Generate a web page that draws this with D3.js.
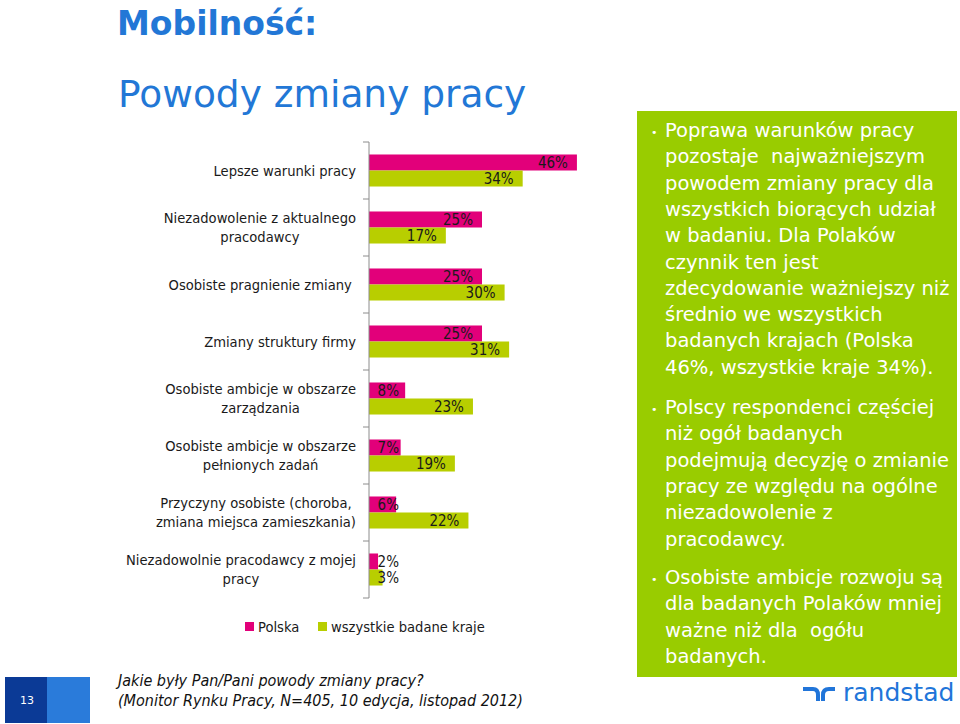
<!DOCTYPE html>
<html><head><meta charset="utf-8">
<script src="https://cdn.jsdelivr.net/npm/d3@7"></script>
<style>
html,body{margin:0;padding:0;background:#fff;}
svg{display:block;font-family:'DejaVu Sans',sans-serif;}
.cond{font-family:'DejaVu Sans Condensed','DejaVu Sans',sans-serif;font-stretch:condensed;}
</style></head>
<body>
<svg id="c" width="960" height="724"></svg>
<script>
const categories = [
  "Lepsze warunki pracy",
  "Niezadowolenie z aktualnego\npracodawcy",
  "Osobiste pragnienie zmiany ",
  "Zmiany struktury firmy",
  "Osobiste ambicje w obszarze\nzarządzania",
  "Osobiste ambicje w obszarze\npełnionych zadań",
  "Przyczyny osobiste (choroba,\nzmiana miejsca zamieszkania)",
  "Niezadowolnie pracodawcy z mojej\npracy"
];
const seriesNames = ["Polska", "wszystkie badane kraje"];
const polska = [46, 25, 25, 25, 8, 7, 6, 2];
const wszystkie = [34, 17, 30, 31, 23, 19, 22, 3];
const bullets = [
  ["Poprawa warunków pracy","pozostaje  najważniejszym","powodem zmiany pracy dla","wszystkich biorących udział","w badaniu. Dla Polaków","czynnik ten jest","zdecydowanie ważniejszy niż","średnio we wszystkich","badanych krajach (Polska","46%, wszystkie kraje 34%)."],
  ["Polscy respondenci częściej","niż ogół badanych","podejmują decyzję o zmianie","pracy ze względu na ogólne","niezadowolenie z","pracodawcy."],
  ["Osobiste ambicje rozwoju są","dla badanych Polaków mniej","ważne niż dla  ogółu","badanych."]
];
const titleBold = "Mobilność:";
const titleMain = "Powody zmiany pracy";
const question = ["Jakie były Pan/Pani powody zmiany pracy?","(Monitor Rynku Pracy, N=405, 10 edycja, listopad 2012)"];

const colors = {Polska:"#E2007A", all:"#B8CE00"};
const svg = d3.select("#c");

// Titles
svg.append("text").attr("x",117).attr("y",35).attr("font-size",33).attr("font-weight","bold")
  .attr("fill","#2277D6").text(titleBold);
svg.append("text").attr("x",118).attr("y",107).attr("font-size",37.5)
  .attr("fill","#2277D6").text(titleMain);

// Chart
const data = categories.map((c,i)=>({cat:c, vals:[polska[i], wszystkie[i]]}));
const y0 = d3.scaleBand().domain(categories).range([142,598]).paddingInner(0).paddingOuter(0);
const y1 = d3.scaleBand().domain(seriesNames).range([0,y0.bandwidth()]).paddingInner(0).paddingOuter(0.78);
const x = d3.scaleLinear().domain([0,50]).range([369,595]);
const fill = d3.scaleOrdinal().domain(seriesNames).range([colors.Polska, colors.all]);

const g = svg.append("g");
const groups = g.selectAll("g.cat").data(data).join("g").attr("class","cat")
  .attr("transform", d=>`translate(0,${y0(d.cat)})`);
groups.selectAll("rect").data(d=>d.vals.map((v,j)=>({s:seriesNames[j], v})))
  .join("rect")
  .attr("x", x(0)).attr("y", d=>y1(d.s))
  .attr("width", d=>x(d.v)-x(0)).attr("height", y1.bandwidth())
  .attr("fill", d=>fill(d.s));
groups.selectAll("text.val").data(d=>d.vals.map((v,j)=>({s:seriesNames[j], v})))
  .join("text").attr("class","val cond")
  .attr("x", d=>Math.max(x(d.v)-9, x(0)+30))
  .attr("y", d=>y1(d.s)+y1.bandwidth()/2)
  .attr("dy","0.36em").attr("text-anchor","end")
  .attr("font-size",15).attr("fill","#1a1a1a")
  .text(d=>d.v+"%");

// axis
const axisG = svg.append("g");
axisG.append("line").attr("x1",x(0)).attr("x2",x(0)).attr("y1",142).attr("y2",598)
  .attr("stroke","#8c8c8c").attr("stroke-width",1);
const tickYs = categories.map(c=>y0(c)).concat([598]);
axisG.selectAll("line.tick").data(tickYs).join("line").attr("class","tick")
  .attr("x1",x(0)-6).attr("x2",x(0)).attr("y1",d=>d).attr("y2",d=>d)
  .attr("stroke","#8c8c8c");

// category labels
const labG = svg.append("g").attr("class","cond").attr("font-size",14.6).attr("fill","#1a1a1a");
data.forEach(d=>{
  const lines = d.cat.split("\n");
  const cy = y0(d.cat)+y0.bandwidth()/2;
  const lh = 19;
  const t = labG.append("text").style("white-space","pre");
  lines.forEach((ln,k)=>{
    t.append("tspan").attr("y", cy + (k-(lines.length-1)/2)*lh).attr("dy","0.36em").text(ln);
  });
  let maxW = 0;
  t.selectAll("tspan").each(function(){ maxW = Math.max(maxW, this.getComputedTextLength()); });
  const cx = 356 - maxW/2;
  t.selectAll("tspan").attr("x", cx).attr("text-anchor","middle");
});

// legend
const leg = svg.append("g").attr("class","cond").attr("font-size",14.6).attr("fill","#1a1a1a");
const legX = [245, 318];
seriesNames.forEach((s,i)=>{
  leg.append("rect").attr("x",legX[i]).attr("y",622).attr("width",9).attr("height",9).attr("fill",fill(s));
  leg.append("text").attr("x",legX[i]+13).attr("y",632).text(s);
});

// question
const q = svg.append("g").attr("class","cond").attr("font-size",16).attr("font-style","italic").attr("fill","#111");
question.forEach((ln,i)=>q.append("text").attr("x",118).attr("y",686+i*20).text(ln));

// green box
svg.append("rect").attr("x",637).attr("y",111).attr("width",320).attr("height",566).attr("fill","#99CC00");
const bStarts = [137, 414, 584];
const bt = svg.append("g").attr("font-size",19.5).attr("fill","#fff");
bullets.forEach((lines,bi)=>{
  bt.append("text").attr("x",651).attr("y",bStarts[bi]-1).attr("font-size",11).text("•");
  lines.forEach((ln,k)=>{
    bt.append("text").attr("x",665).attr("y",bStarts[bi]+k*26.3).style("white-space","pre").text(ln);
  });
});

// page number
svg.append("rect").attr("x",5).attr("y",677).attr("width",42).attr("height",46).attr("fill","#0B3A96");
svg.append("rect").attr("x",47).attr("y",677).attr("width",43).attr("height",46).attr("fill","#2A7BDA");
svg.append("text").attr("x",27).attr("y",704).attr("text-anchor","middle").attr("font-size",11).attr("fill","#fff").text("13");

// randstad logo
const logo = svg.append("g").attr("stroke","#2175D9").attr("stroke-width",4).attr("fill","none");
logo.append("path").attr("d","M803,689 L813,689 Q818,689 818,695 L818,701");
logo.append("path").attr("d","M823,701 L823,695 Q823,689 829,689 L835,689");
svg.append("text").attr("x",843).attr("y",701).attr("font-size",25).attr("fill","#2175D9").text("randstad");
</script>
</body></html>
